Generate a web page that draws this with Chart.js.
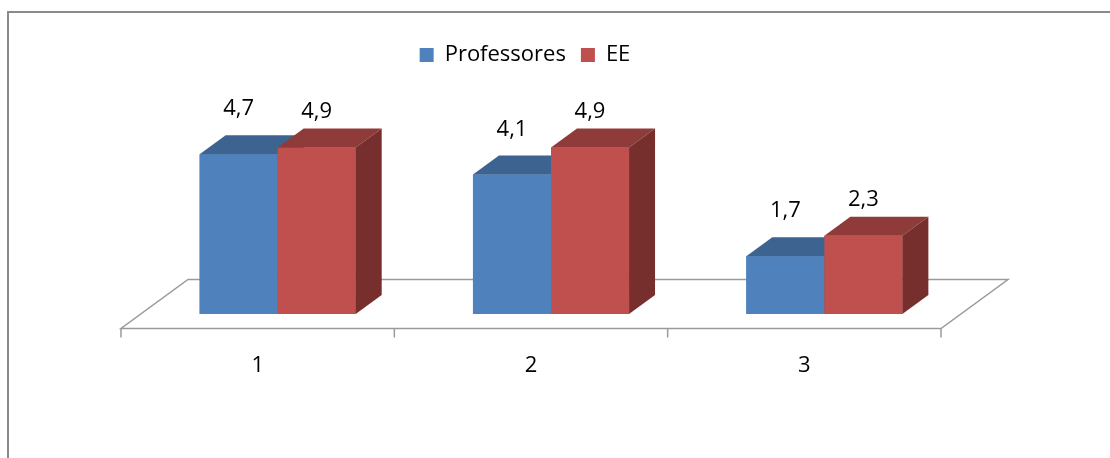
<!DOCTYPE html>
<html>
<head>
<meta charset="utf-8">
<script src="https://cdn.jsdelivr.net/npm/chart.js@4.4.1/dist/chart.umd.min.js"></script>
<style>
  html,body{margin:0;padding:0;background:#fff;}
  #wrap{position:relative;width:1110px;height:458px;overflow:hidden;}
  #frame{position:absolute;left:7px;top:11px;width:1200px;height:600px;border-left:2px solid #8a8a8a;border-top:2px solid #8a8a8a;}
  canvas{position:absolute;left:0;top:0;}
</style>
</head>
<body>
<div id="wrap">
  <div id="frame"></div>
  <canvas id="chart" width="1110" height="458"></canvas>
</div>
<script>
const categories = ['1', '2', '3'];
const seriesNames = ['Professores', 'EE'];
const professores = [4.7, 4.1, 1.7];
const ee = [4.9, 4.9, 2.3];

const FONT = '"Open Sans", sans-serif';
const faces = [
  { front: '#4F81BD', top: '#3D6391', side: '#365A84' },
  { front: '#C0504D', top: '#8F3B39', side: '#772F2E' }
];
const DX = 26, DY = -19;        // depth of a bar
const FLOOR_DX = 67;            // depth of the floor
const labelLift = [45, 36];     // value labels sit above the back edge

function poly(ctx, pts, fill){
  ctx.beginPath();
  ctx.moveTo(pts[0][0], pts[0][1]);
  for(let i=1;i<pts.length;i++) ctx.lineTo(pts[i][0], pts[i][1]);
  ctx.closePath();
  ctx.fillStyle = fill;
  ctx.fill();
}

const box3d = {
  id: 'box3d',
  beforeDatasetsDraw(chart){
    const {ctx, chartArea:a} = chart;
    const base = chart.scales.y.getPixelForValue(0);
    const fy = base + 14.5, by = base - 34.5;
    const l = a.left - 20, r = a.right - 20;
    ctx.save();
    ctx.strokeStyle = '#9a9a9a';
    ctx.lineWidth = 1.5;
    ctx.beginPath();
    ctx.moveTo(l, fy); ctx.lineTo(r, fy);
    ctx.lineTo(r + FLOOR_DX, by); ctx.lineTo(l + FLOOR_DX, by); ctx.closePath();
    const n = categories.length;
    for(let i=0;i<=n;i++){
      const x = l + (r - l) * i / n;
      ctx.moveTo(x, fy); ctx.lineTo(x, fy + 9);
    }
    ctx.stroke();
    ctx.restore();
  },
  // boxes are built series by series, so the red front hides the blue side
  afterDatasetsDraw(chart){
    const ctx = chart.ctx;
    ctx.save();
    chart.data.datasets.forEach((ds, i)=>{
      const c = faces[i];
      chart.getDatasetMeta(i).data.forEach(bar=>{
        const {x, y, base, width} = bar.getProps(['x','y','base','width'], true);
        const l = x - width/2, r = x + width/2;
        poly(ctx, [[l,y],[r,y],[r,base],[l,base]], c.front);
        poly(ctx, [[l,y],[l+DX,y+DY],[r+DX,y+DY],[r,y]], c.top);
        poly(ctx, [[r,y],[r+DX,y+DY],[r+DX,base+DY],[r,base]], c.side);
      });
    });
    ctx.font = '22px ' + FONT;
    ctx.fillStyle = '#000';
    ctx.textAlign = 'center';
    ctx.textBaseline = 'middle';
    chart.data.datasets.forEach((ds, i)=>{
      chart.getDatasetMeta(i).data.forEach((bar, j)=>{
        const txt = String(ds.data[j]).replace('.', ',');
        ctx.fillText(txt, bar.x, bar.y - labelLift[i]);
      });
    });
    ctx.restore();
  }
};

new Chart(document.getElementById('chart'), {
  type: 'bar',
  data: {
    labels: categories,
    datasets: [
      { label: seriesNames[0], data: professores, backgroundColor: faces[0].front },
      { label: seriesNames[1], data: ee, backgroundColor: faces[1].front }
    ]
  },
  options: {
    responsive: false,
    animation: false,
    events: [],
    datasets: { bar: { barPercentage: 1, categoryPercentage: 0.571, borderWidth: 0 } },
    layout: { padding: { left: 89, right: 149, top: 29, bottom: 84 } },
    plugins: {
      tooltip: { enabled: false },
      legend: {
        position: 'top',
        labels: {
          color: '#000',
          font: { family: FONT, size: 22 },
          boxWidth: 14, boxHeight: 14, padding: 15
        }
      }
    },
    scales: {
      x: {
        grid: { display: false, drawTicks: false },
        border: { display: false },
        ticks: { color: '#000', font: { family: FONT, size: 22 }, labelOffset: -20, padding: 39 },
        afterFit(s){ s.height = 60; }
      },
      y: {
        min: 0, max: 7,
        grid: { display: false, drawTicks: false },
        border: { display: false },
        ticks: { display: false },
        afterFit(s){ s.width = 52; }
      }
    }
  },
  plugins: [box3d]
});
</script>
</body>
</html>
